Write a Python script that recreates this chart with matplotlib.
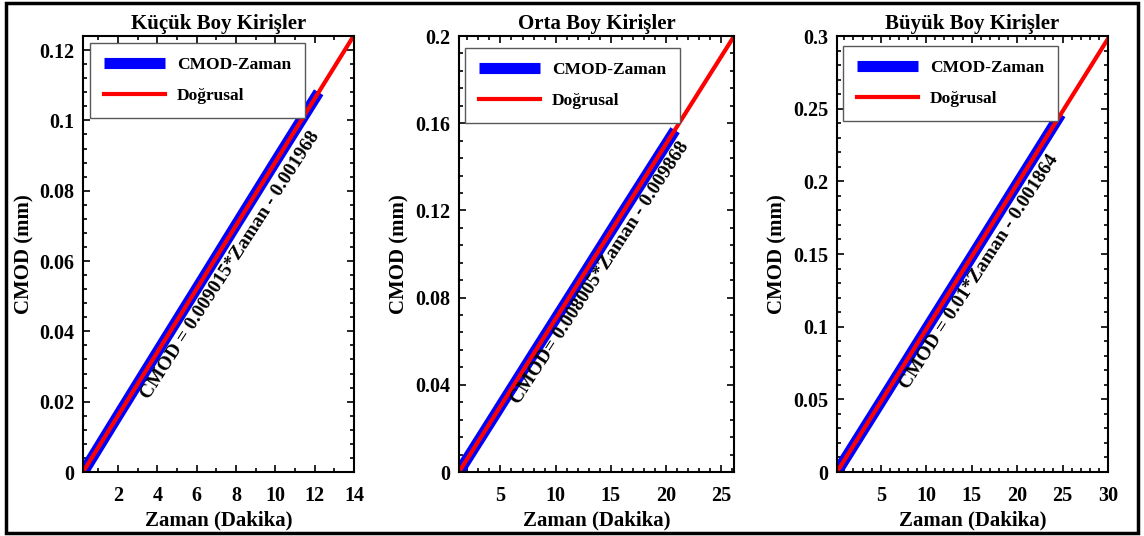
import matplotlib.pyplot as plt
import numpy as np
from matplotlib.ticker import AutoMinorLocator
from matplotlib.patches import Rectangle

plt.rcParams['font.family'] = ['Liberation Serif', 'DejaVu Serif']
plt.rcParams['font.weight'] = 'bold'

# panel titles and fit equations
titles = ['Küçük Boy Kirişler', 'Orta Boy Kirişler', 'Büyük Boy Kirişler']
slopes = [0.009015, 0.008005, 0.01]
intercepts = [-0.001968, -0.009868, -0.001864]
eq_texts = ['CMOD = 0.009015*Zaman - 0.001968',
            'CMOD= 0.008005*Zaman - 0.009868',
            'CMOD = 0.01*Zaman - 0.001864']

time_small = [0.3, 2, 4, 6, 8, 10, 12.2]
cmod_small = [0.0006, 0.0161, 0.0342, 0.0522, 0.0703, 0.0883, 0.1080]
time_mid = [1.3, 4, 8, 12, 16, 20.85]
cmod_mid = [0.0006, 0.0222, 0.0543, 0.0862, 0.1183, 0.1568]
time_big = [0.25, 5, 10, 15, 20, 24.8]
cmod_big = [0.0007, 0.0481, 0.0982, 0.1481, 0.1982, 0.2462]
times = [time_small, time_mid, time_big]
cmods = [cmod_small, cmod_mid, cmod_big]

# axis ranges and ticks
x_max = [14, 26.2, 30]
y_max = [0.124, 0.2, 0.3]
x_minor = [2, 5, 5]
x_ticks = [[2, 4, 6, 8, 10, 12, 14], [5, 10, 15, 20, 25], [5, 10, 15, 20, 25, 30]]
y_ticks = [[0, 0.02, 0.04, 0.06, 0.08, 0.1, 0.12],
           [0, 0.04, 0.08, 0.12, 0.16, 0.2],
           [0, 0.05, 0.1, 0.15, 0.2, 0.25, 0.3]]
y_ticklabels = [['0', '0.02', '0.04', '0.06', '0.08', '0.1', '0.12'],
                ['0', '0.04', '0.08', '0.12', '0.16', '0.2'],
                ['0', '0.05', '0.1', '0.15', '0.2', '0.25', '0.3']]
# equation label position (data coords)
eq_pos = [(7.72, 0.0587), (14.1, 0.0915), (15.9, 0.138)]

fig = plt.figure(figsize=(11.44, 5.36), dpi=100)
lefts = [0.0726, 0.4012, 0.7316]
widths = [0.2369, 0.2404, 0.2369]
legend_anchor = [(0.026, 0.984), (0.022, 0.973), (0.022, 0.977)]

for i in range(3):
    ax = fig.add_axes([lefts[i], 0.1194, widths[i], 0.8134])
    x0 = -intercepts[i] / slopes[i]
    ax.plot(times[i], cmods[i], color='blue', lw=8, solid_capstyle='butt', label='CMOD-Zaman')
    xf = np.array([x0, x_max[i]])
    ax.plot(xf, slopes[i] * xf + intercepts[i], color='red', lw=3, label='Doğrusal')
    ax.set_xlim(x0, x_max[i])
    ax.set_ylim(0, y_max[i])
    ax.set_xticks(x_ticks[i])
    ax.set_yticks(y_ticks[i])
    ax.set_yticklabels(y_ticklabels[i])
    ax.xaxis.set_minor_locator(AutoMinorLocator(x_minor[i]))
    ax.yaxis.set_minor_locator(AutoMinorLocator(5))
    ax.tick_params(which='both', direction='in', top=True, right=True, labelsize=14.5, width=1.2)
    ax.tick_params(axis='x', pad=10)
    ax.tick_params(axis='y', pad=6)
    ax.tick_params(which='major', length=5)
    ax.tick_params(which='minor', length=3)
    for sp in ax.spines.values():
        sp.set_linewidth(1.5)
    ax.set_title(titles[i], fontsize=15, fontweight='bold', pad=5)
    ax.set_xlabel('Zaman (Dakika)', fontsize=15, fontweight='bold', labelpad=3)
    ax.set_ylabel('CMOD (mm)', fontsize=15, fontweight='bold', labelpad=4)

    # equation along the line
    p0 = ax.transData.transform((x0, 0))
    p1 = ax.transData.transform((x_max[i], slopes[i] * x_max[i] + intercepts[i]))
    ang = np.degrees(np.arctan2(p1[1] - p0[1], p1[0] - p0[0]))
    ax.text(eq_pos[i][0], eq_pos[i][1], eq_texts[i], rotation=ang - 1, rotation_mode='anchor',
            ha='center', va='center', fontsize=14, fontweight='bold')

    leg = ax.legend(loc='upper left', bbox_to_anchor=legend_anchor[i], borderaxespad=0,
                    fontsize=12.5, handlelength=3.5, labelspacing=0.85, borderpad=0.8,
                    handletextpad=0.7, fancybox=False, framealpha=1, edgecolor='0.35')
    leg.get_frame().set_linewidth(1.0)
    for t in leg.get_texts():
        t.set_fontweight('bold')

fig.patches.append(Rectangle((0.005, 0.006), 0.99, 0.988, transform=fig.transFigure,
                             fill=False, edgecolor='black', lw=2.5))
fig.savefig('out.png', dpi=100)
